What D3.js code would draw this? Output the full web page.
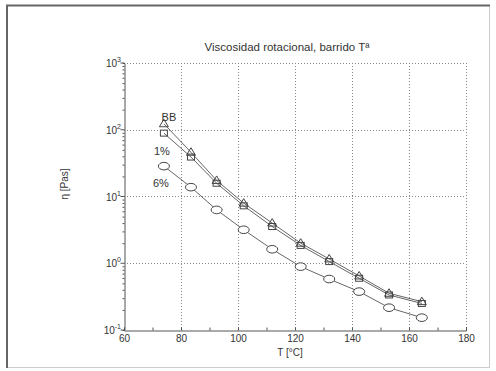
<!DOCTYPE html>
<html lang="es">
<head>
    <meta charset="UTF-8">
    <script src="https://d3js.org/d3.v7.min.js"></script>
    <title>Viscosidad rotacional</title>
    <style>
        body { margin: 0; background: #fff; }
        text { font-family: "Liberation Sans", Arial, sans-serif; fill: #333; }
    </style>
</head>
<body>
<script>
    // Data
    const temps = [74, 83.5, 92.5, 102, 112, 122, 132, 142.5, 153, 164.5];
    const bb = [123, 46, 17.4, 7.96, 4.0, 2.0, 1.16, 0.645, 0.355, 0.266];
    const onePct = [89, 39, 15.8, 7.25, 3.55, 1.85, 1.06, 0.596, 0.335, 0.25];
    const sixPct = [28.5, 13.8, 6.3, 3.17, 1.62, 0.89, 0.58, 0.376, 0.216, 0.153];
    const xTicks = [60, 80, 100, 120, 140, 160, 180];
    const yDecades = [-1, 0, 1, 2, 3];

    const W = 496, H = 371;
    const plot = {left: 124, right: 466, top: 63, bottom: 330};

    const svg = d3.select("body").append("svg")
        .attr("width", W)
        .attr("height", H);

    // frame
    svg.append("rect")
        .attr("x", 6.5).attr("y", 5.5)
        .attr("width", 483).attr("height", 362)
        .attr("fill", "none").attr("stroke", "#ccc");
    svg.append("path")
        .attr("d", "M7,368V5.5H490")
        .attr("fill", "none").attr("stroke", "#666").attr("stroke-width", 2);

    const x = d3.scaleLinear().domain([60, 180]).range([plot.left, plot.right]);
    const y = d3.scaleLog().domain([0.1, 1000]).range([plot.bottom, plot.top]);

    // grid
    const grid = svg.append("g")
        .attr("stroke", "#888").attr("stroke-dasharray", "1,2").attr("stroke-width", 1);
    xTicks.slice(1).forEach(t => {
        grid.append("line")
            .attr("x1", Math.round(x(t)) + 0.5).attr("x2", Math.round(x(t)) + 0.5)
            .attr("y1", plot.top).attr("y2", plot.bottom);
    });
    yDecades.slice(1).forEach(d => {
        const yy = Math.round(y(Math.pow(10, d))) + 0.5;
        grid.append("line")
            .attr("x1", plot.left).attr("x2", plot.right)
            .attr("y1", yy).attr("y2", yy);
    });

    // x axis
    const xAxis = svg.append("g")
        .attr("transform", "translate(0," + (plot.bottom + 0.5) + ")")
        .call(d3.axisBottom(x)
            .tickValues(d3.range(60, 181, 10))
            .tickSize(-3)
            .tickFormat(d => d % 20 === 0 ? d : ""));
    xAxis.select(".domain").attr("stroke", "#555");
    xAxis.selectAll("line").attr("stroke", "#555");
    xAxis.selectAll("text")
        .attr("font-size", 10).attr("dy", "0.9em").attr("y", 2)
        .style("font-family", "Liberation Sans, Arial, sans-serif").attr("fill", "#333");

    // y axis with log minor ticks
    const minor = [];
    yDecades.slice(0, -1).forEach(d => {
        for (let m = 2; m <= 9; m++) minor.push(m * Math.pow(10, d));
    });
    const yAxis = svg.append("g")
        .attr("transform", "translate(" + (plot.left + 0.5) + ",0)")
        .call(d3.axisLeft(y)
            .tickValues(minor)
            .tickSize(2)
            .tickFormat(""));
    yAxis.select(".domain").attr("stroke", "#555");
    yAxis.selectAll("line").attr("stroke", "#555");
    yAxis.selectAll(".major")
        .data(yDecades).enter().append("line")
        .attr("x1", -4).attr("x2", 0)
        .attr("y1", d => y(Math.pow(10, d))).attr("y2", d => y(Math.pow(10, d)))
        .attr("stroke", "#555");

    const yLab = svg.append("g");
    yDecades.forEach(d => {
        const t = yLab.append("text")
            .attr("x", plot.left - 3)
            .attr("y", y(Math.pow(10, d)) + 4)
            .attr("text-anchor", "end")
            .attr("font-size", 10)
            .attr("fill", "#333");
        t.append("tspan").text("10");
        t.append("tspan").attr("font-size", 7).attr("dy", -5).text(d);
    });

    // titles
    svg.append("text")
        .attr("x", 287).attr("y", 51)
        .attr("text-anchor", "middle")
        .attr("font-size", 11.5)
        .attr("fill", "#222")
        .text("Viscosidad rotacional, barrido Tª");
    svg.append("text")
        .attr("x", 290).attr("y", 356)
        .attr("text-anchor", "middle")
        .attr("font-size", 10)
        .attr("fill", "#333")
        .text("T  [°C]");
    svg.append("text")
        .attr("transform", "translate(68,184) rotate(-90)")
        .attr("text-anchor", "middle")
        .attr("font-size", 10)
        .attr("fill", "#333")
        .text("η  [Pas]");

    // series
    const line = d3.line()
        .x((d, i) => x(temps[i]))
        .y(d => y(d));

    [bb, onePct, sixPct].forEach(s => {
        svg.append("path")
            .datum(s)
            .attr("fill", "none")
            .attr("stroke", "#666")
            .attr("stroke-width", 1)
            .attr("d", line);
    });

    svg.selectAll(".tri")
        .data(bb).enter().append("path")
        .attr("transform", (d, i) => "translate(" + x(temps[i]) + "," + y(d) + ")")
        .attr("d", "M0,-4.5L4.5,3L-4.5,3Z")
        .attr("fill", "none").attr("stroke", "#444");

    svg.selectAll(".sq")
        .data(onePct).enter().append("rect")
        .attr("x", (d, i) => x(temps[i]) - 3.5)
        .attr("y", d => y(d) - 3)
        .attr("width", 7).attr("height", 6)
        .attr("fill", "none").attr("stroke", "#444");

    svg.selectAll(".circ")
        .data(sixPct).enter().append("ellipse")
        .attr("cx", (d, i) => x(temps[i]))
        .attr("cy", d => y(d))
        .attr("rx", 5.5).attr("ry", 3.8)
        .attr("fill", "#fff").attr("stroke", "#444");

    // series labels
    const labels = [
        {text: "BB", t: temps[0], v: bb[0], dx: 5, dy: -3},
        {text: "1%", t: temps[0], v: onePct[0], dx: -2, dy: 22},
        {text: "6%", t: temps[0], v: sixPct[0], dx: -3, dy: 21}
    ];
    labels.forEach(l => {
        svg.append("text")
            .attr("x", x(l.t) + l.dx)
            .attr("y", y(l.v) + l.dy)
            .attr("text-anchor", "middle")
            .attr("font-size", 11)
            .attr("fill", "#333")
            .text(l.text);
    });
</script>
</body>
</html>
